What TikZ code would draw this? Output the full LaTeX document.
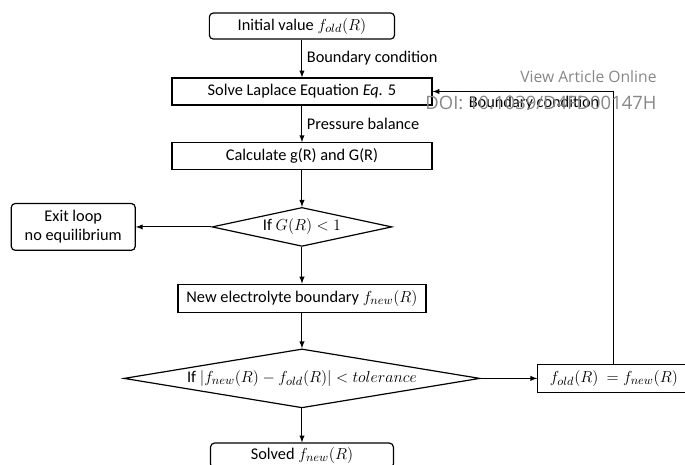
\documentclass[tikz,border=0pt]{standalone}
\usepackage{fontspec}
\setmainfont{Carlito}
\newfontfamily\wmfont{Open Sans}
\usetikzlibrary{shapes,arrows,positioning}

\begin{document}
\begin{tikzpicture}[
  node distance=0.97cm and 2.0cm,
  box/.style={rectangle, draw, line width=0.9pt, minimum height=0.71cm, inner sep=2pt, align=center, font=\fontsize{12.3}{14}\selectfont},
  rbox/.style={box, rounded corners=3pt},
  decision/.style={diamond, draw, line width=0.9pt, inner sep=0pt, align=center, font=\fontsize{12.3}{14}\selectfont},
  arrow/.style={->, >=latex, line width=0.8pt},
  lbl/.style={font=\fontsize{12.3}{14}\selectfont},
  wmark/.style={inner sep=0pt, text=black!47}
]
  \useasboundingbox (-7.99,0.689) rectangle (10.135,-11.614);

  \node[rbox, minimum width=4.9cm, minimum height=0.69cm] (init) {Initial value $f_{old}(R)$};
  \node[box, below=1.0cm of init, minimum width=6.88cm] (laplace) {Solve Laplace Equation \textit{Eq.} 5};
  \node[box, below=of laplace, minimum width=6.88cm] (calc) {Calculate g(R) and G(R)};
  \node[decision, below=of calc, minimum width=4.76cm, minimum height=1.03cm, aspect=4.6] (cond) {If $G(R) < 1$};
  \node[rbox, left=2.0cm of cond, minimum width=3.28cm, minimum height=1.24cm] (exit) {Exit loop\\no equilibrium};
  \node[box, below=of cond, minimum width=6.56cm, minimum height=0.74cm] (newb) {New electrolyte boundary $f_{new}(R)$};
  \node[decision, below=0.94cm of newb, minimum width=9.42cm, minimum height=1.56cm, aspect=6] (conv) {If $|f_{new}(R) - f_{old}(R)| < tolerance$};
  \node[box, right=1.5cm of conv, minimum width=4.02cm, minimum height=0.74cm] (update) {$f_{old}(R)\ = f_{new}(R)$};
  \node[rbox, below=0.9cm of conv, minimum width=4.84cm, minimum height=0.66cm] (solved) {Solved $f_{new}(R)$};

  \draw[arrow] (init) -- node[right, lbl]{Boundary condition} (laplace);
  \draw[arrow] (laplace) -- node[right, lbl]{Pressure balance} (calc);
  \draw[arrow] (calc) -- (cond);
  \draw[arrow] (cond) -- (exit);
  \draw[arrow] (cond) -- (newb);
  \draw[arrow] (newb) -- (conv);
  \draw[arrow] (conv) -- (update);
  \draw[arrow] (conv) -- (solved);
  \draw[arrow] (update.north) |- node[pos=0.72, below, lbl]{Boundary condition} (laplace.east);

  % journal watermark
  \node[wmark, anchor=east, font=\wmfont\fontsize{11.8}{13}\selectfont] (view) at (9.39,-1.348) {View Article Online};
  \node[wmark, anchor=east, font=\wmfont\fontsize{13.9}{15}\selectfont] (doi) at (9.39,-2.036) {DOI: 10.1039/D4FD00147H};
\end{tikzpicture}
\end{document}
